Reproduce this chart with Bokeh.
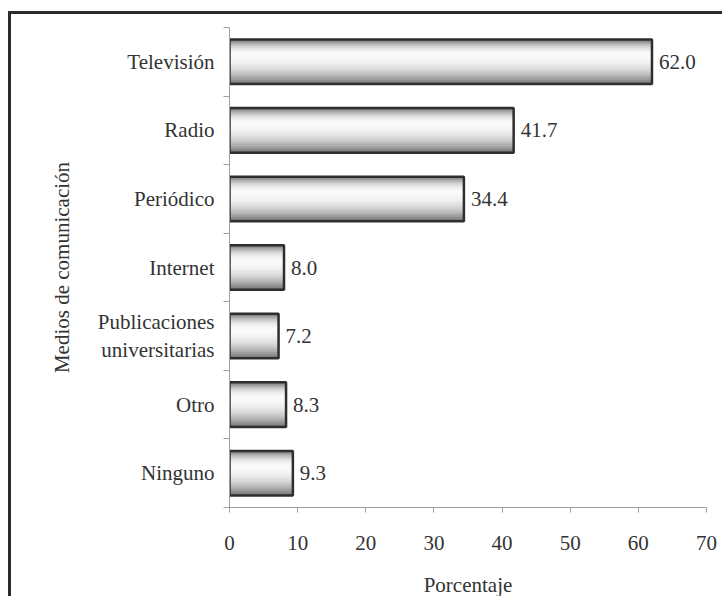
from bokeh.plotting import figure
from bokeh.models import ColumnDataSource, Range1d, FixedTicker
from bokeh.transform import dodge
from bokeh.core.properties import value
from bokeh.embed import file_html
from bokeh.resources import INLINE

# ---- data ----
categories = ["Televisión", "Radio", "Periódico", "Internet",
              "Publicaciones\nuniversitarias", "Otro", "Ninguno"]
percentages = [62.0, 41.7, 34.4, 8.0, 7.2, 8.3, 9.3]
x_ticks = [0, 10, 20, 30, 40, 50, 60, 70]
x_title = "Porcentaje"
y_title = "Medios de comunicación"

n = len(categories)
ypos = [n - 1 - i for i in range(n)]
src = ColumnDataSource(dict(y=ypos, value=percentages,
                            label=[f"{v:.1f}" for v in percentages]))

FONT = "Liberation Serif"
TXT = "#333333"

p = figure(width=714, height=585, output_backend="svg", toolbar_location=None,
           x_range=Range1d(0, 70), y_range=Range1d(-0.5, n - 0.5),
           min_border_left=218, min_border_right=19,
           min_border_top=13, min_border_bottom=91)
p.outline_line_color = None
p.xgrid.visible = False
p.ygrid.visible = False
p.styles = {"margin-left": "8px", "margin-top": "11px",
            "border-left": "3px solid #2b2b2b", "border-top": "3px solid #2b2b2b"}

# ---- bars with gradient layers ----
BAR_H = 0.65
half = BAR_H / 2
peak = 0.1  # lightest line (above centre)
N = 14
dark = (120, 120, 120)
light = (250, 250, 250)
for k in range(N):
    t = k / N
    top = half - t * (half - peak)
    bot = -half + t * (half + peak)
    c = (top + bot) / 2
    h = top - bot
    e = 1 - (1 - t) ** 2.2
    col = tuple(int(dark[j] + (light[j] - dark[j]) * e) for j in range(3))
    p.hbar(y=dodge("y", c, range=p.y_range), left=0, right="value", height=h,
           source=src, fill_color="#%02x%02x%02x" % col, line_color=None)
p.hbar(y="y", left=0, right="value", height=BAR_H, source=src,
       fill_color=None, line_color="#2e2e2e", line_width=2.5)

p.text(x="value", y="y", text="label", source=src, x_offset=7,
       text_baseline="middle", text_align="left",
       text_font=value(FONT), text_font_size="21px", text_color=TXT)

# ---- x axis ----
xa = p.xaxis[0]
xa.ticker = FixedTicker(ticks=x_ticks)
xa.axis_line_color = "#a0a0a0"
xa.major_tick_line_color = "#a0a0a0"
xa.major_tick_out = 5
xa.major_tick_in = 0
xa.minor_tick_line_color = None
xa.major_label_text_font = FONT
xa.major_label_text_font_size = "21px"
xa.major_label_text_color = TXT
xa.major_label_standoff = 23
xa.axis_label = x_title
xa.axis_label_text_font = FONT
xa.axis_label_text_font_size = "21px"
xa.axis_label_text_font_style = "normal"
xa.axis_label_text_color = TXT
xa.axis_label_standoff = 20

# ---- y axis ----
ya = p.yaxis[0]
boundaries = [v - 0.5 for v in range(n + 1)]
ya.ticker = FixedTicker(ticks=ypos, minor_ticks=boundaries)
ya.major_label_overrides = {y: c for y, c in zip(ypos, categories)}
ya.axis_line_color = "#a0a0a0"
ya.major_tick_line_color = None
ya.major_tick_out = 0
ya.major_tick_in = 0
ya.minor_tick_line_color = "#a0a0a0"
ya.minor_tick_out = 6
ya.minor_tick_in = 0
ya.major_label_text_font = FONT
ya.major_label_text_font_size = "21px"
ya.major_label_text_color = TXT
ya.major_label_standoff = 9
ya.axis_label = y_title
ya.axis_label_text_font = FONT
ya.axis_label_text_font_size = "21px"
ya.axis_label_text_font_style = "normal"
ya.axis_label_text_color = TXT
ya.axis_label_standoff = 21

open("out.html", "w").write(file_html(p, INLINE))
